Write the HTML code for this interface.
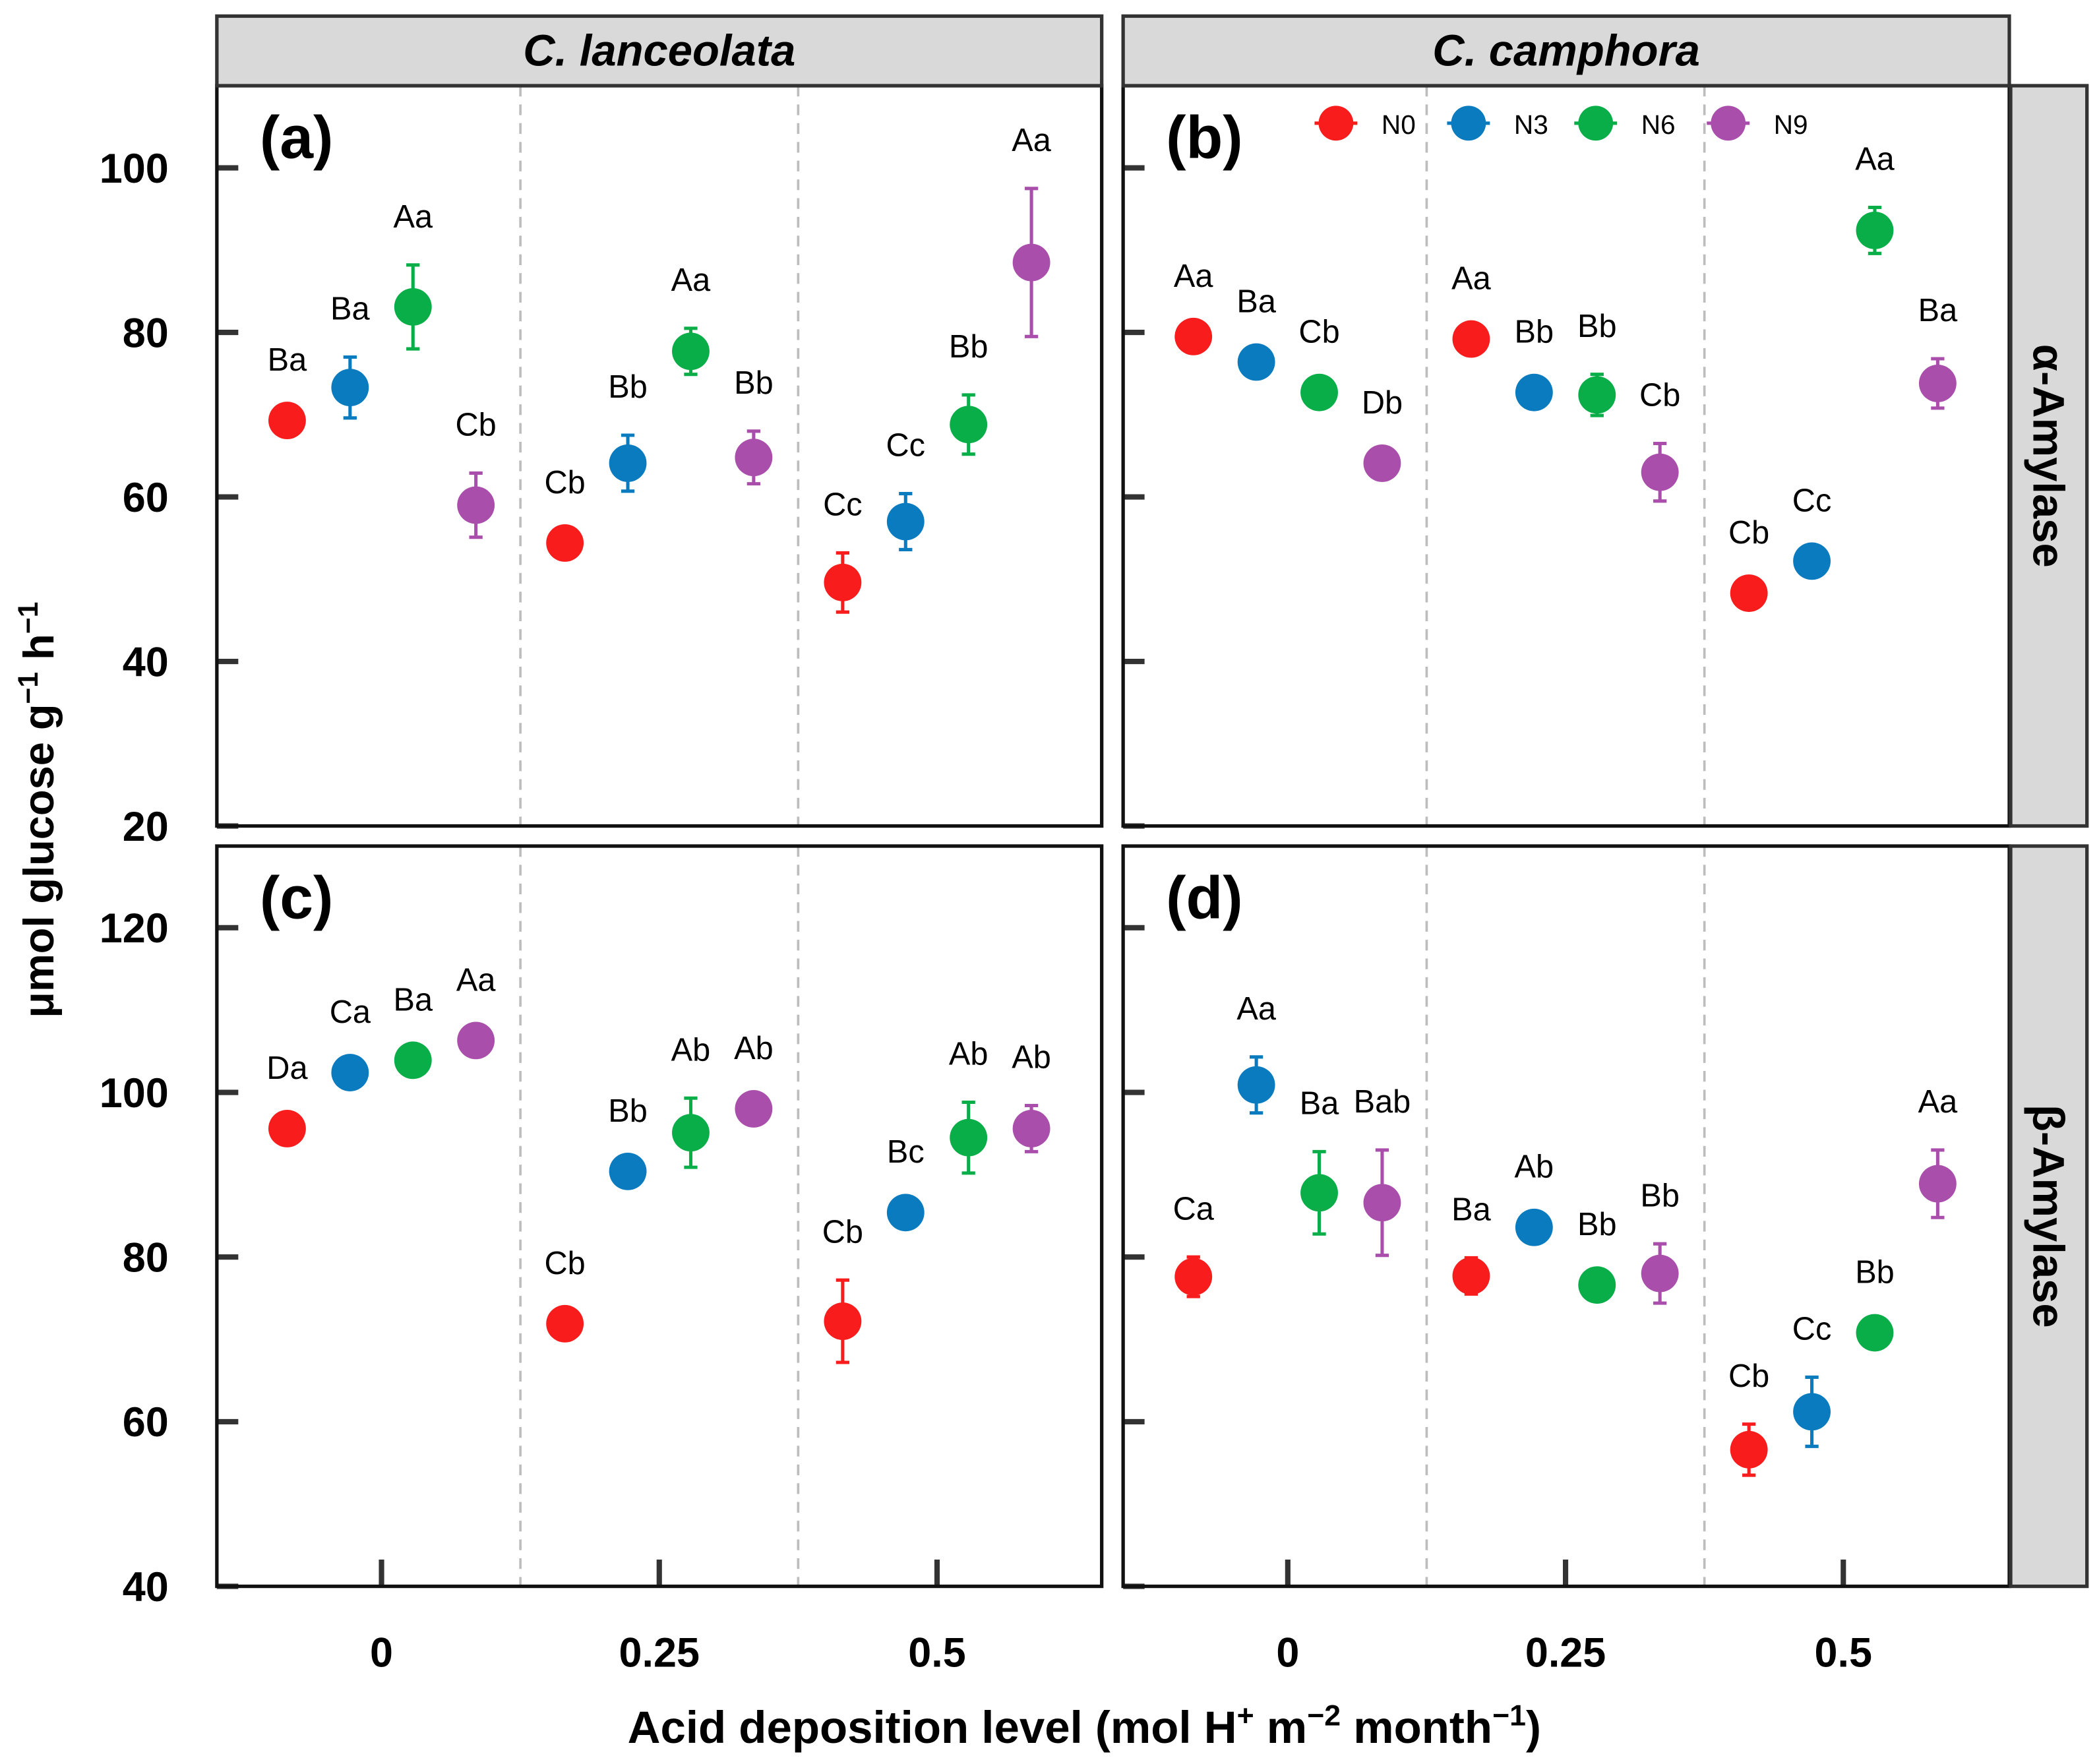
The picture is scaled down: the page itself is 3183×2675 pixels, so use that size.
<!DOCTYPE html>
<html><head><meta charset="utf-8"><style>
html,body{margin:0;padding:0;background:#fff}
svg{display:block}
text{font-family:"Liberation Sans",Arial,sans-serif}
</style></head><body>
<svg id="chart" width="3183" height="2675" viewBox="0 0 1568 1317.7" xmlns="http://www.w3.org/2000/svg">
<g id="root"></g>
</svg>
<script>
const categories = ["0", "0.25", "0.5"];
const seriesNames = ["N0", "N3", "N6", "N9"];
const colors = ["#f81c1c", "#0a7bbf", "#09ae48", "#a94fab"];
const yTicksTop = [20, 40, 60, 80, 100];
const yTicksBottom = [40, 60, 80, 100, 120];
// values per panel: [category][series]
const valA = [[69.3,73.3,83.1,59.0],[54.4,64.1,77.7,64.8],[49.6,57.0,68.8,88.5]];
const seA  = [[1.5,3.7,5.1,3.9],[1.5,3.4,2.8,3.2],[3.6,3.4,3.6,9.0]];
const labA = [["Ba","Ba","Aa","Cb"],["Cb","Bb","Aa","Bb"],["Cc","Cc","Bb","Aa"]];
const valB = [[79.5,76.4,72.7,64.1],[79.2,72.7,72.4,63.0],[48.3,52.2,92.4,73.8]];
const seB  = [[1.5,1.5,1.5,1.5],[1.5,1.5,2.5,3.5],[1.5,1.5,2.8,3.0]];
const labB = [["Aa","Ba","Cb","Db"],["Aa","Bb","Bb","Cb"],["Cb","Cc","Aa","Ba"]];
const valC = [[95.6,102.4,103.9,106.3],[71.9,90.4,95.1,98.0],[72.2,85.4,94.5,95.6]];
const seC  = [[1.5,1.5,1.5,1.5],[1.5,1.5,4.2,1.5],[5.0,1.5,4.3,2.8]];
const labC = [["Da","Ca","Ba","Aa"],["Cb","Bb","Ab","Ab"],["Cb","Bc","Ab","Ab"]];
const valD = [[77.6,100.9,87.8,86.6],[77.7,83.6,76.6,78.0],[56.6,61.2,70.8,88.9]];
const seD  = [[2.4,3.4,5.0,6.4],[2.2,1.5,1.5,3.6],[3.1,4.2,1.5,4.1]];
const labD = [["Ca","Aa","Ba","Bab"],["Ba","Ab","Bb","Bb"],["Cb","Cc","Bb","Aa"]];

const NS = "http://www.w3.org/2000/svg";
const root = document.getElementById('root');
function mk(tag, attrs, parent, txt){
  const e = document.createElementNS(NS, tag);
  for (const k in attrs) e.setAttribute(k, attrs[k]);
  if (txt !== undefined) e.textContent = txt;
  (parent||root).appendChild(e);
  return e;
}
const groupW = 207.5, seriesOff = 47;
const panels = [
  {id:"a", x0:162, x1:823, y0:64, y1:617, vmin:20, vmax:100, pxTop:125.4, ticks:yTicksTop, vals:valA, se:seA, lab:labA, showY:true, showX:false},
  {id:"b", x0:839, x1:1501, y0:64, y1:617, vmin:20, vmax:100, pxTop:125.4, ticks:yTicksTop, vals:valB, se:seB, lab:labB, showY:false, showX:false},
  {id:"c", x0:162, x1:823, y0:632, y1:1185, vmin:40, vmax:120, pxTop:693, ticks:yTicksBottom, vals:valC, se:seC, lab:labC, showY:true, showX:true},
  {id:"d", x0:839, x1:1501, y0:632, y1:1185, vmin:40, vmax:120, pxTop:693, ticks:yTicksBottom, vals:valD, se:seD, lab:labD, showY:false, showX:true}
];
panels.forEach(p=>{
  const g = mk('g', {});
  
  
  const yScale = v => p.y1 - (v - p.vmin) * (p.y1 - p.pxTop) / (p.vmax - p.vmin);
  const cx0 = p.x0 + 123;
  const xScale = (ci, si) => cx0 + ci * groupW + (si - 1.5) * seriesOff;
  for (let i = 0; i < categories.length - 1; i++){
    const x = cx0 + (i + 0.5) * groupW;
    const l = mk('line', {x1:x, x2:x, y1:p.y0, y2:p.y1, stroke:"#bdbdbd", "stroke-width":1.8, "stroke-dasharray":"8,6"}, g);
    
    
  }
  p.ticks.forEach(t=>{
    const y = yScale(t);
    const tk = mk('line', {x1:p.x0, x2:p.x0+16, y1:y, y2:y, stroke:"#333", "stroke-width":4}, g);
    
    
    if (p.showY){
      const tl = mk('text', {x:126, y:y+11, "text-anchor":"end", "font-size":31, "font-weight":"bold"}, g, String(t));
      
      
    }
  });
  categories.forEach((c, ci)=>{
    const x = cx0 + ci * groupW;
    if (p.showX){
      const tk = mk('line', {x1:x, x2:x, y1:p.y1-20, y2:p.y1, stroke:"#333", "stroke-width":4}, g);
      
      
      const tl = mk('text', {x:x, y:1245, "text-anchor":"middle", "font-size":31, "font-weight":"bold"}, g, c);
      
      
    }
  });
  p.vals.forEach((row, ci)=>{
    row.forEach((v, si)=>{
      const x = xScale(ci, si), y = yScale(v);
      const s = p.se[ci][si];
      const yt = yScale(v + s), yb = yScale(v - s);
      const col = colors[si];
      const eb = mk('path', {d:`M${x},${yt}V${yb}M${x-5},${yt}H${x+5}M${x-5},${yb}H${x+5}`, stroke:col, "stroke-width":2.5, fill:"none"}, g);
      
      
      const dot = mk('circle', {cx:x, cy:y, r:14, fill:col}, g);
      
      
      const lb = mk('text', {x:x, y:yt-28, "text-anchor":"middle", "font-size":24}, g, p.lab[ci][si]);
      
      
    });
  });
  const br = mk('rect', {x:p.x0, y:p.y0, width:p.x1-p.x0, height:p.y1-p.y0, fill:"none", stroke:"#111", "stroke-width":2.6}, g);
  
  
  const pl = mk('text', {x:p.x0+32, y:p.y0+54, "font-size":45, "font-weight":"bold"}, g, "(" + p.id + ")");
  
  
});
[[162,823,"C. lanceolata"],[839,1501,"C. camphora"]].forEach(s=>{
  const r = mk('rect', {x:s[0], y:12, width:s[1]-s[0], height:52, fill:"#d9d9d9", stroke:"#333", "stroke-width":2.6});
  
  
  const t = mk('text', {x:(s[0]+s[1])/2, y:49, "text-anchor":"middle", "font-size":33, "font-weight":"bold", "font-style":"italic"}, root, s[2]);
  
  
});
[[64,617,"α-Amylase"],[632,1185,"β-Amylase"]].forEach(s=>{
  const r = mk('rect', {x:1502, y:s[0], width:57, height:s[1]-s[0], fill:"#d9d9d9", stroke:"#333", "stroke-width":2.6});
  
  
  const cy = (s[0]+s[1])/2;
  const t = mk('text', {x:1519, y:cy, "text-anchor":"middle", "font-size":33, "font-weight":"bold", transform:`rotate(90 1519 ${cy})`}, root, s[2]);
  
  
});
const lx = [998, 1097, 1192, 1291];
seriesNames.forEach((n, i)=>{
  const g = mk('g', {});
  
  
  mk('line', {x1:lx[i]-16, x2:lx[i]+16, y1:92, y2:92, stroke:colors[i], "stroke-width":2.5}, g);
  mk('circle', {cx:lx[i], cy:92, r:13, fill:colors[i]}, g);
  mk('text', {x:lx[i]+34, y:100, "font-size":20}, g, n);
});
const yt = mk('text', {x:40, y:605, "text-anchor":"middle", "font-size":32, "font-weight":"bold", transform:"rotate(-90 40 605)"}, root);


yt.innerHTML = 'μmol glucose g<tspan dy="-12" font-size="21">−1</tspan><tspan dy="12"> h</tspan><tspan dy="-12" font-size="21">−1</tspan>';
const xt = mk('text', {x:810, y:1302, "text-anchor":"middle", "font-size":34, "font-weight":"bold"}, root);


xt.innerHTML = 'Acid deposition level (mol H<tspan dy="-13" font-size="22">+</tspan><tspan dy="13"> m</tspan><tspan dy="-13" font-size="22">−2</tspan><tspan dy="13"> month</tspan><tspan dy="-13" font-size="22">−1</tspan><tspan dy="13">)</tspan>';
</script>
</body></html>
